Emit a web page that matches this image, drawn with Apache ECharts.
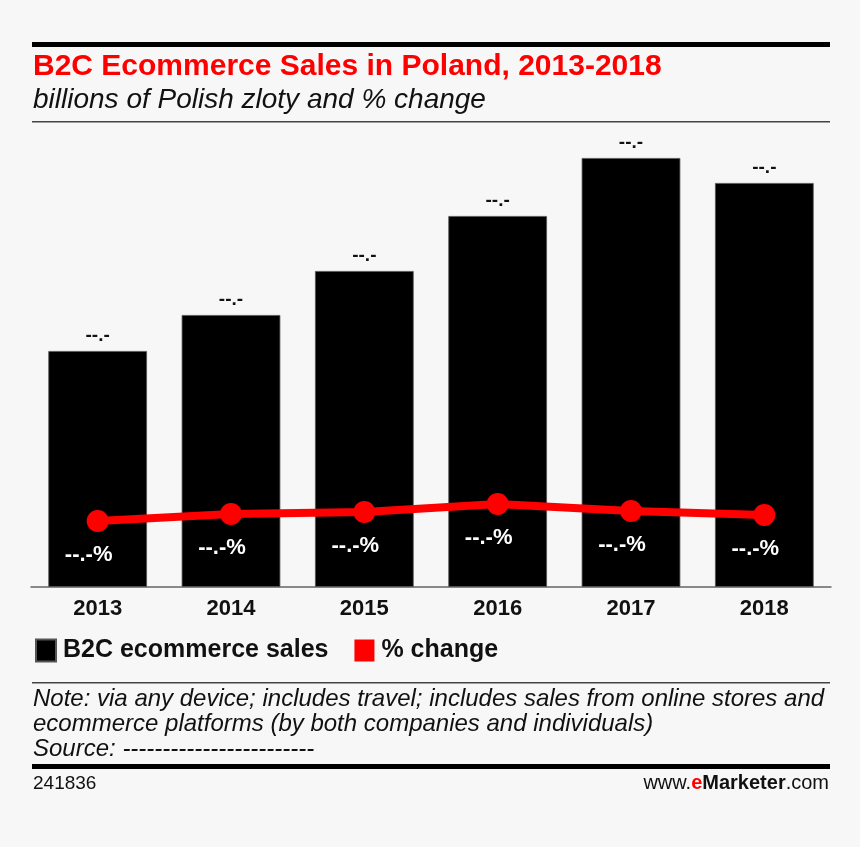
<!DOCTYPE html>
<html>
<head>
<meta charset="utf-8">
<script src="https://cdn.jsdelivr.net/npm/echarts@6/dist/echarts.min.js"></script>
<style>
html,body{margin:0;padding:0;background:#f7f7f7;}
#c{width:860px;height:847px;}
</style>
</head>
<body>
<div id="c"></div>
<script>
const categories = ['2013','2014','2015','2016','2017','2018'];
const salesValues = [23.6, 27.2, 31.6, 37.1, 42.9, 40.4];
const pctValues = [6.6, 7.3, 7.5, 8.3, 7.6, 7.2];
const salesLabels = ['--.-','--.-','--.-','--.-','--.-','--.-'];
const pctLabels = ['--.-%','--.-%','--.-%','--.-%','--.-%','--.-%'];

const FONT = '"Liberation Sans Narrow","Arial Narrow","Liberation Sans",Arial,sans-serif';
const chart = echarts.init(document.getElementById('c'));
chart.setOption({
  backgroundColor: '#f7f7f7',
  animation: false,
  grid: {left: 31, right: 29, top: 123, bottom: 260, containLabel: false},
  legend: {
    left: 30, top: 633, itemWidth: 20, itemHeight: 22, itemGap: 26,
    icon: 'rect',
    textStyle: {fontFamily: FONT, fontWeight: 'bold', fontSize: 25, color: '#111', padding: [0,0,0,2]},
    data: [{name: 'B2C ecommerce sales', itemStyle: {color: '#000'}}, {name: '% change', itemStyle: {color: '#ff0000'}}]
  },
  xAxis: {
    type: 'category', data: categories,
    axisLine: {lineStyle: {color: '#666', width: 1.5}},
    axisTick: {show: false},
    axisLabel: {fontFamily: FONT, fontWeight: 'bold', fontSize: 22, color: '#111', margin: 11}
  },
  yAxis: [
    {type: 'value', min: 0, max: 46.4, show: false, splitLine: {show: false}},
    {type: 'value', min: 0, max: 46.4, show: false, splitLine: {show: false}}
  ],
  series: [
    {
      name: 'B2C ecommerce sales', type: 'bar', data: salesValues, yAxisIndex: 0,
      barCategoryGap: '26%',
      itemStyle: {color: '#000', borderColor: '#555', borderWidth: 0.8},
      label: {show: true, position: 'top', distance: 6, formatter: p => salesLabels[p.dataIndex],
        fontFamily: FONT, fontWeight: 'bold', fontSize: 19, color: '#111'}
    },
    {
      name: '% change', type: 'line', data: pctValues, yAxisIndex: 1,
      lineStyle: {color: '#ff0000', width: 8},
      itemStyle: {color: '#ff0000'},
      symbol: 'circle', symbolSize: 22,
      label: {show: true, position: 'bottom', distance: 12, offset: [-9, 0], formatter: p => pctLabels[p.dataIndex],
        fontFamily: FONT, fontWeight: 'bold', fontSize: 22, color: '#fff'},
      z: 5
    }
  ],
  graphic: [
    {type: 'rect', shape: {x: 32, y: 42, width: 798, height: 5}, style: {fill: '#000'}},
    {type: 'text', left: 33, top: 52, style: {text: 'B2C Ecommerce Sales in Poland, 2013-2018', fill: '#ff0000',
      font: 'bold 30px ' + FONT}},
    {type: 'text', left: 33, top: 86, style: {text: 'billions of Polish zloty and % change', fill: '#111',
      font: 'italic 28px ' + FONT}},
    {type: 'rect', shape: {x: 32, y: 121, width: 798, height: 1.5}, style: {fill: '#444'}},
    {type: 'rect', shape: {x: 32, y: 682, width: 798, height: 1.5}, style: {fill: '#444'}},
    {type: 'text', left: 33, top: 687, style: {text: 'Note: via any device; includes travel; includes sales from online stores and\necommerce platforms (by both companies and individuals)\nSource: ------------------------',
      fill: '#111', font: 'italic 24px ' + FONT, lineHeight: 25}},
    {type: 'rect', shape: {x: 32, y: 764, width: 798, height: 5}, style: {fill: '#000'}},
    {type: 'text', left: 33, top: 774, style: {text: '241836', fill: '#111', font: '19px ' + FONT}},
    {type: 'text', right: 31, top: 773, style: {
      text: '{a|www.}{e|e}{b|Marketer}{a|.com}',
      rich: {
        a: {font: '20px ' + FONT, fill: '#111'},
        e: {font: 'bold 20px ' + FONT, fill: '#ff0000'},
        b: {font: 'bold 20px ' + FONT, fill: '#111'}
      }}}
  ]
});
</script>
</body>
</html>
